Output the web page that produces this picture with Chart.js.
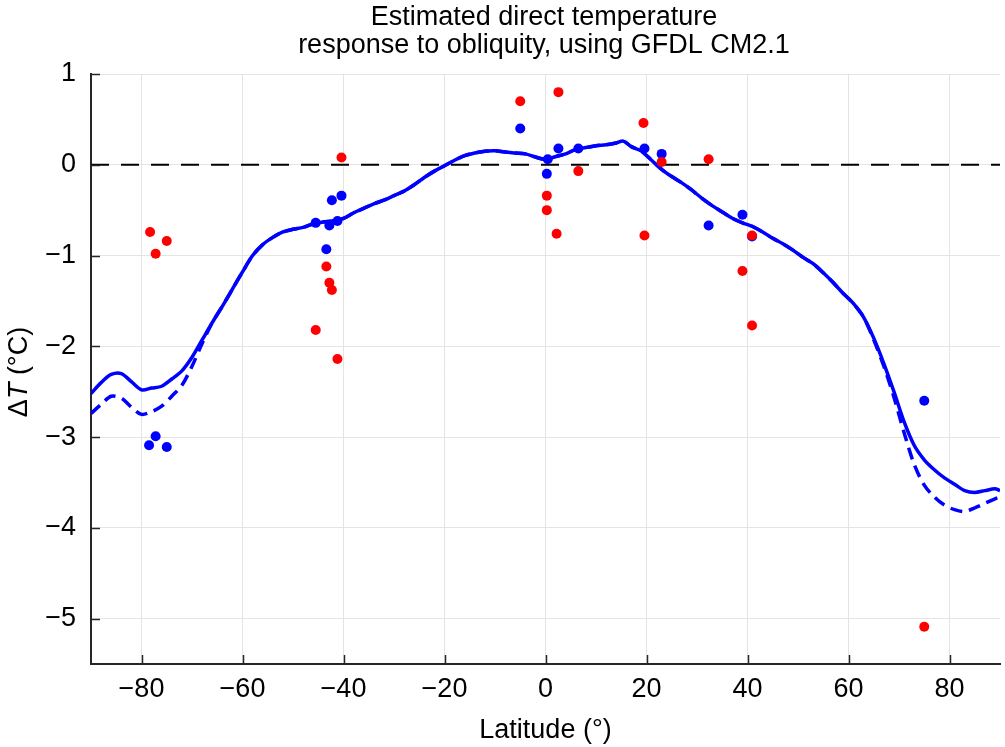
<!DOCTYPE html>
<html>
<head>
<meta charset="utf-8">
<title>Direct temperature response to obliquity</title>
<script src="https://cdn.jsdelivr.net/npm/chart.js@4.4.1/dist/chart.umd.min.js"></script>
<style>
  html, body { margin: 0; padding: 0; background: #fff; }
  #wrap { width: 1005px; height: 747px; }
</style>
</head>
<body>
<div id="wrap"><canvas id="chart" width="1005" height="747"></canvas></div>
<script>
// ─── Data ─────────────────────────────────────────────────────────────
const X_TICKS = [-80, -60, -40, -20, 0, 20, 40, 60, 80];
const Y_TICKS = [-5, -4, -3, -2, -1, 0, 1];

// latitude grid shared by both model curves
const CURVE_LAT = [
  -90, -88, -86, -84, -82, -80, -78, -76, -74, -72, -70, -68, -66, -64, -62,
  -60, -58, -56, -54, -52, -50, -48, -46, -44, -42, -40, -38, -36, -34, -32,
  -30, -28, -26, -24, -22, -20, -18, -16, -14, -12, -10, -8, -6, -4, -2,
  0, 2, 4, 6, 8, 10, 12, 14, 15.4, 17, 19, 21, 23, 25, 27,
  29, 31, 33, 35, 37, 39, 41, 43, 45, 47, 49, 51, 53, 55, 57,
  59, 61, 63, 65, 67, 69, 71, 73, 75, 77, 79, 81, 83, 85, 87, 89, 90,
];

// solid curve
const CURVE_SOLID = [
  -2.52, -2.40, -2.31, -2.30, -2.39, -2.48, -2.46, -2.44, -2.36, -2.27, -2.12, -1.93, -1.74, -1.56, -1.37,
  -1.18, -1.00, -0.88, -0.80, -0.74, -0.71, -0.69, -0.65, -0.63, -0.62, -0.59, -0.53, -0.48, -0.43, -0.39,
  -0.34, -0.29, -0.22, -0.14, -0.07, -0.01, 0.05, 0.10, 0.13, 0.15, 0.155, 0.14, 0.13, 0.12, 0.085,
  0.06, 0.09, 0.12, 0.17, 0.19, 0.21, 0.22, 0.24, 0.26, 0.20, 0.15, 0.05, -0.05, -0.13, -0.20,
  -0.28, -0.37, -0.45, -0.52, -0.59, -0.64, -0.68, -0.74, -0.81, -0.87, -0.94, -1.02, -1.09, -1.19, -1.30,
  -1.42, -1.53, -1.68, -1.91, -2.19, -2.50, -2.83, -3.09, -3.25, -3.36, -3.45, -3.52, -3.59, -3.61, -3.59, -3.57, -3.59,
];

// dashed curve
const CURVE_DASHED = [
  -2.74, -2.64, -2.55, -2.57, -2.67, -2.75, -2.72, -2.66, -2.55, -2.43, -2.22, -1.97, -1.74, -1.56, -1.37,
  -1.18, -1.00, -0.88, -0.80, -0.74, -0.71, -0.69, -0.65, -0.63, -0.62, -0.59, -0.53, -0.48, -0.43, -0.39,
  -0.34, -0.29, -0.22, -0.14, -0.07, -0.01, 0.05, 0.10, 0.13, 0.15, 0.155, 0.14, 0.13, 0.12, 0.085,
  0.06, 0.09, 0.12, 0.17, 0.19, 0.21, 0.22, 0.24, 0.26, 0.20, 0.15, 0.05, -0.05, -0.13, -0.20,
  -0.28, -0.37, -0.45, -0.52, -0.59, -0.64, -0.68, -0.74, -0.81, -0.87, -0.94, -1.02, -1.09, -1.19, -1.30,
  -1.42, -1.53, -1.68, -1.93, -2.22, -2.56, -2.95, -3.30, -3.53, -3.66, -3.75, -3.80, -3.82, -3.78, -3.73, -3.68, -3.66,
];

// site estimates, blue
const BLUE_LAT = [-78.5, -77.2, -75, -45.5, -43.4, -42.8, -42.3, -41.2, -40.4, -5, 0.26, 0.45, 2.56, 6.5, 19.6, 23, 32.3, 39, 40.9, 75];
const BLUE_DT  = [-3.09, -2.99, -3.11, -0.64, -0.93, -0.67, -0.39, -0.62, -0.34, 0.40, -0.10, 0.06, 0.18, 0.18, 0.18, 0.12, -0.67, -0.55, -0.79, -2.60];

// site estimates, red
const RED_LAT = [-78.3, -77.2, -75, -45.5, -43.4, -42.8, -42.3, -41.2, -40.4, -5, 0.26, 0.26, 2.2, 2.56, 6.5, 19.4, 19.6, 23, 32.3, 39, 40.9, 40.9, 75];
const RED_DT  = [-0.74, -0.98, -0.84, -1.82, -1.12, -1.30, -1.38, -2.14, 0.08, 0.70, -0.34, -0.50, -0.76, 0.80, -0.07, 0.46, -0.78, 0.03, 0.06, -1.17, -0.78, -1.77, -5.09];

// zero reference line
const ZERO_LAT = [-90, 90];
const ZERO_DT  = [0, 0];

// ─── Styling ──────────────────────────────────────────────────────────
const FONT = "'Liberation Sans', Arial, Helvetica, sans-serif";
const FONT_SIZE = 27;
const AXIS_COLOR = "#262626";
const GRID_COLOR = "#e4e4e4";
const BLUE = "#0000ff";
const RED = "#ff0000";

const toPoints = (xs, ys) => xs.map((x, i) => ({ x, y: ys[i] }));
const fmtTick = (v) => (v < 0 ? "\u2212" + Math.abs(v) : String(v));

// ─── Plugins ──────────────────────────────────────────────────────────
// tick marks point into the plot area
const inwardTicks = {
  id: "inwardTicks",
  afterDraw(chart) {
    const { ctx, chartArea, scales } = chart;
    ctx.save();
    ctx.strokeStyle = AXIS_COLOR;
    ctx.lineWidth = 1.5;
    ctx.beginPath();
    for (const v of X_TICKS) {
      const px = Math.round(scales.x.getPixelForValue(v)) + 0.5;
      ctx.moveTo(px, chartArea.bottom);
      ctx.lineTo(px, chartArea.bottom - 9);
    }
    for (const v of Y_TICKS) {
      const py = Math.round(scales.y.getPixelForValue(v)) + 0.5;
      ctx.moveTo(chartArea.left, py);
      ctx.lineTo(chartArea.left + 9, py);
    }
    ctx.stroke();
    ctx.restore();
  },
};

// two-line title centred over the plot
const plotTitle = {
  id: "plotTitle",
  afterDraw(chart) {
    const { ctx } = chart;
    ctx.save();
    ctx.fillStyle = "#000";
    ctx.font = `${FONT_SIZE}px ${FONT}`;
    ctx.textAlign = "center";
    ctx.textBaseline = "alphabetic";
    ctx.fillText("Estimated direct temperature", 544, 25);
    ctx.fillText("response to obliquity, using GFDL CM2.1", 544, 53);
    ctx.restore();
  },
};

// y title with italic T
const yTitle = {
  id: "yTitle",
  afterDraw(chart) {
    const { ctx, chartArea } = chart;
    const parts = [["\u0394", "normal"], ["T", "italic"], [" (\u00b0C)", "normal"]];
    ctx.save();
    ctx.fillStyle = "#000";
    ctx.textBaseline = "alphabetic";
    ctx.textAlign = "left";
    ctx.translate(27, (chartArea.top + chartArea.bottom) / 2 + 3);
    ctx.rotate(-Math.PI / 2);
    const widths = parts.map(([t, s]) => {
      ctx.font = `${s} ${FONT_SIZE}px ${FONT}`;
      return ctx.measureText(t).width;
    });
    let x = -widths.reduce((a, b) => a + b, 0) / 2;
    parts.forEach(([t, s], i) => {
      ctx.font = `${s} ${FONT_SIZE}px ${FONT}`;
      ctx.fillText(t, x, 0);
      x += widths[i];
    });
    ctx.restore();
  },
};

// ─── Chart ────────────────────────────────────────────────────────────
const ctx = document.getElementById("chart").getContext("2d");
new Chart(ctx, {
  type: "scatter",
  data: {
    datasets: [
      {
        label: "red sites",
        data: toPoints(RED_LAT, RED_DT),
        backgroundColor: RED,
        borderWidth: 0,
        pointRadius: 5,
        order: 1,
      },
      {
        label: "blue sites",
        data: toPoints(BLUE_LAT, BLUE_DT),
        backgroundColor: BLUE,
        borderWidth: 0,
        pointRadius: 5,
        order: 2,
      },
      {
        label: "solid",
        data: toPoints(CURVE_LAT, CURVE_SOLID),
        showLine: true,
        borderColor: BLUE,
        borderWidth: 3.5,
        pointRadius: 0,
        tension: 0.3,
        order: 3,
      },
      {
        label: "dashed",
        data: toPoints(CURVE_LAT, CURVE_DASHED),
        showLine: true,
        borderColor: BLUE,
        borderWidth: 3.5,
        borderDash: [12, 7],
        pointRadius: 0,
        tension: 0.3,
        order: 4,
      },
      {
        label: "zero",
        data: toPoints(ZERO_LAT, ZERO_DT),
        showLine: true,
        borderColor: "#000",
        borderWidth: 2,
        borderDash: [18, 12],
        pointRadius: 0,
        order: 5,
      },
    ],
  },
  options: {
    responsive: false,
    animation: false,
    devicePixelRatio: 1,
    layout: { padding: { top: 74, right: 0, left: 0, bottom: 0 } },
    plugins: {
      legend: { display: false },
      tooltip: { enabled: false },
      title: { display: false },
    },
    scales: {
      x: {
        type: "linear",
        min: -90,
        max: 90,
        afterBuildTicks: (scale) => { scale.ticks = X_TICKS.map((v) => ({ value: v })); },
        afterFit: (scale) => {
          scale.height = 83;
          scale.paddingLeft = 0;
          scale.paddingRight = 0;
        },
        grid: { color: GRID_COLOR, lineWidth: 1, drawTicks: false },
        border: { display: true, color: AXIS_COLOR, width: 2 },
        ticks: {
          color: "#000",
          font: { family: FONT, size: FONT_SIZE },
          padding: 9,
          maxRotation: 0,
          autoSkip: false,
          callback: fmtTick,
        },
        title: {
          display: true,
          text: "Latitude (\u00b0)",
          color: "#000",
          font: { family: FONT, size: FONT_SIZE },
          padding: 0,
        },
      },
      y: {
        type: "linear",
        min: -5.5,
        max: 1,
        afterBuildTicks: (scale) => { scale.ticks = Y_TICKS.map((v) => ({ value: v })); },
        afterFit: (scale) => { scale.width = 91; },
        grid: { color: GRID_COLOR, lineWidth: 1, drawTicks: false },
        border: { display: true, color: AXIS_COLOR, width: 2 },
        ticks: {
          color: "#000",
          font: { family: FONT, size: FONT_SIZE },
          padding: 15,
          callback: fmtTick,
        },
      },
    },
  },
  plugins: [inwardTicks, plotTitle, yTitle],
});
</script>
</body>
</html>
